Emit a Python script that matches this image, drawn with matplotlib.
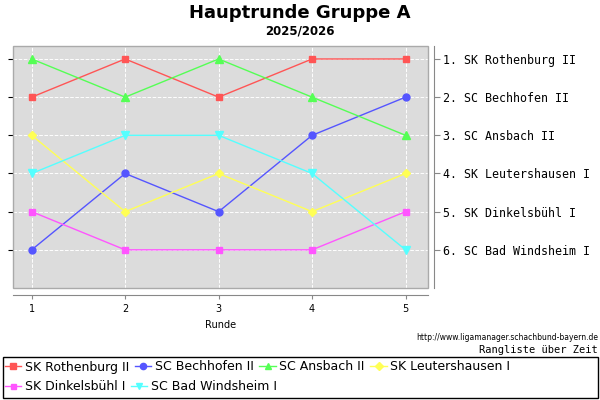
import matplotlib.pyplot as plt
from matplotlib.patches import Rectangle

rounds = [1, 2, 3, 4, 5]
teams = ["SK Rothenburg II", "SC Bechhofen II", "SC Ansbach II",
         "SK Leutershausen I", "SK Dinkelsbühl I", "SC Bad Windsheim I"]
rothenburg = [2, 1, 2, 1, 1]
bechhofen = [6, 4, 5, 3, 2]
ansbach = [1, 2, 1, 2, 3]
leutershausen = [3, 5, 4, 5, 4]
dinkelsbuehl = [5, 6, 6, 6, 5]
windsheim = [4, 3, 3, 4, 6]
final_labels = ["1. SK Rothenburg II", "2. SC Bechhofen II", "3. SC Ansbach II",
                "4. SK Leutershausen I", "5. SK Dinkelsbühl I", "6. SC Bad Windsheim I"]

series = [rothenburg, bechhofen, ansbach, leutershausen, dinkelsbuehl, windsheim]
colors = ["#ff5555", "#5555ff", "#55ff55", "#ffff55", "#ff55ff", "#55ffff"]
markers = ["s", "o", "^", "D", "s", "v"]
msizes = [5, 5, 5.5, 4.5, 4, 5.5]

W, H = 600, 400
fig = plt.figure(figsize=(6, 4), dpi=100)

ax = fig.add_axes([13 / W, 1 - 288 / H, (428 - 13) / W, (288 - 46) / H])
ax.set_facecolor("#dcdcdc")
for s in ["top", "right", "left"]:
    ax.spines[s].set_visible(False)
ax.add_patch(Rectangle((0, 0), 1, 1, transform=ax.transAxes, fill=False,
                       edgecolor="#aaaaaa", lw=1, zorder=5, clip_on=False))
ax.spines["bottom"].set_position(("outward", 5))
ax.spines["bottom"].set_color("#888888")

handles = []
for vals, name, c, m, ms in zip(series, teams, colors, markers, msizes):
    h, = ax.plot(rounds, vals, color=c, marker=m, markersize=ms, lw=1, label=name)
    handles.append(h)

ax.set_xlim(0.8, 5.24)
ax.set_ylim(7.0, 0.66)
ax.set_xticks(rounds)
ax.set_yticks(range(1, 7))
ax.tick_params(axis="y", left=False, labelleft=False)
ax.tick_params(axis="x", length=3, color="#888888", labelsize=7)
ax.grid(True, color="white", linestyle="--", lw=0.7)
ax.set_xlabel("Runde", fontsize=7, labelpad=4)

ax2 = ax.twinx()
ax2.set_ylim(7.0, 0.66)
ax2.set_yticks(range(1, 7))
ax2.set_yticklabels(final_labels)
for s in ["top", "left", "bottom"]:
    ax2.spines[s].set_visible(False)
ax2.spines["right"].set_position(("outward", 4))
ax2.spines["right"].set_color("#888888")
ax2.tick_params(axis="y", length=4, color="#888888", pad=3,
                labelsize=8.4, labelfontfamily="DejaVu Sans Mono")

fig.text(0.5, 1 - 13 / H, "Hauptrunde Gruppe A", ha="center", va="center",
         fontsize=13, fontweight="bold")
fig.text(0.5, 1 - 31 / H, "2025/2026", ha="center", va="center",
         fontsize=8.5, fontweight="bold")
fig.text(598 / W, 1 - 338 / H, "http://www.ligamanager.schachbund-bayern.de",
         ha="right", va="center", fontsize=5.5)
fig.text(598 / W, 1 - 350 / H, "Rangliste über Zeit", ha="right", va="center",
         fontsize=7.5, family="DejaVu Sans Mono")

fig.patches.append(Rectangle((3 / W, 1 - 398 / H), 595 / W, 41 / H,
                             transform=fig.transFigure, fill=False,
                             edgecolor="black", lw=1))
leg_kw = dict(loc="center left", frameon=False, fontsize=9, handlelength=1.3,
              handletextpad=0.3, columnspacing=0.45, borderpad=0, borderaxespad=0,
              markerscale=0.9)
fig.legend(handles[:4], teams[:4], ncol=4,
           bbox_to_anchor=(5 / W, 1 - 367 / H), **leg_kw)
fig.legend(handles[4:], teams[4:], ncol=2,
           bbox_to_anchor=(5 / W, 1 - 387 / H), **leg_kw)

fig.savefig("out.png", dpi=100)
